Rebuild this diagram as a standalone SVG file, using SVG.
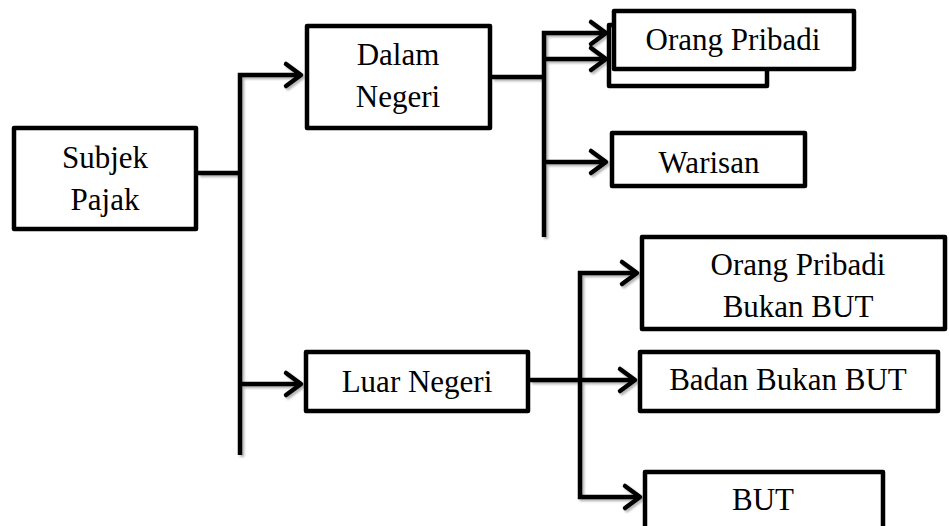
<svg xmlns="http://www.w3.org/2000/svg" width="949" height="526" viewBox="0 0 949 526">
  <style>
    .box { fill: #ffffff; stroke: #000000; stroke-width: 4.5; stroke-linejoin: round; }
    .lbl { font-size: 31px; fill: #000000; text-anchor: middle; }
    .conn { fill: none; stroke: #000000; stroke-width: 4.5; stroke-linejoin: miter; }
  </style>
  <defs>
    <marker id="arr" markerUnits="userSpaceOnUse" markerWidth="30" markerHeight="30" viewBox="-20 -15 30 30" refX="0" refY="0" orient="auto">
      <path d="M-15,-11 L0,0 L-15,11" fill="none" stroke="#000000" stroke-width="4.5" stroke-linejoin="round" stroke-linecap="round"/>
    </marker>
    <filter id="sh" x="-10%" y="-10%" width="130%" height="130%">
      <feDropShadow dx="2" dy="2" stdDeviation="1.2" flood-color="#000000" flood-opacity="0.3"/>
    </filter>
  </defs>
  <rect width="949" height="526" fill="#ffffff"/>

  <g id="connectors" filter="url(#sh)">
    <path class="conn" d="M198,173 H240"/>
    <path class="conn" d="M240,455 V75 H301" marker-end="url(#arr)"/>
    <path class="conn" d="M240,384 H301" marker-end="url(#arr)"/>
    <path class="conn" d="M492,77 H544"/>
    <path class="conn" d="M544,237 V33 H606" marker-end="url(#arr)"/>
    <path class="conn" d="M544,59 H606" marker-end="url(#arr)"/>
    <path class="conn" d="M544,162 H606" marker-end="url(#arr)"/>
    <path class="conn" d="M530,380 H635" marker-end="url(#arr)"/>
    <path class="conn" d="M580,380 V273 H637" marker-end="url(#arr)"/>
    <path class="conn" d="M580,380 V497 H640" marker-end="url(#arr)"/>
  </g>

  <g font-family="Liberation Serif, Times New Roman, serif">
  <g id="subjek-pajak">
    <rect class="box" x="14" y="128" width="182" height="101"/>
    <text class="lbl" x="105" y="168">Subjek</text>
    <text class="lbl" x="105" y="210">Pajak</text>
  </g>

  <g id="dalam-negeri">
    <rect class="box" x="307" y="26" width="183" height="102"/>
    <text class="lbl" x="398" y="65">Dalam</text>
    <text class="lbl" x="398" y="107">Negeri</text>
  </g>

  <g id="orang-pribadi-back">
    <rect class="box" x="609" y="25" width="158" height="61"/>
  </g>

  <g id="orang-pribadi">
    <rect class="box" x="614" y="11" width="240" height="58"/>
    <text class="lbl" x="733" y="50">Orang Pribadi</text>
  </g>

  <g id="warisan">
    <rect class="box" x="612" y="133" width="193" height="53"/>
    <text class="lbl" x="709" y="173">Warisan</text>
  </g>

  <g id="luar-negeri">
    <rect class="box" x="306" y="352" width="222" height="59"/>
    <text class="lbl" x="417" y="392">Luar Negeri</text>
  </g>

  <g id="orang-pribadi-bukan-but">
    <rect class="box" x="642" y="237" width="303" height="92"/>
    <text class="lbl" x="798" y="275">Orang Pribadi</text>
    <text class="lbl" x="798" y="317">Bukan BUT</text>
  </g>

  <g id="badan-bukan-but">
    <rect class="box" x="640" y="352" width="298" height="59"/>
    <text class="lbl" x="788" y="390">Badan Bukan BUT</text>
  </g>

  <g id="but">
    <rect class="box" x="645" y="472" width="238" height="70"/>
    <text class="lbl" x="763" y="510">BUT</text>
  </g>
  </g>
</svg>
